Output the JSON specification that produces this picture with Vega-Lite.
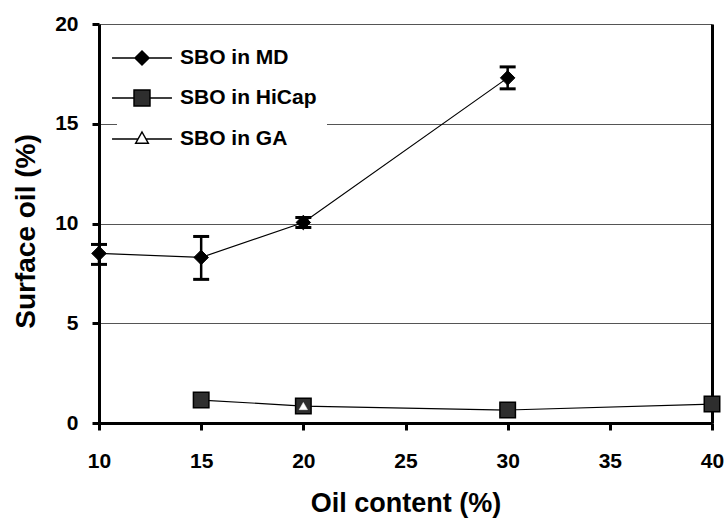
{
  "$schema": "https://vega.github.io/schema/vega-lite/v6.json",
  "width": 613,
  "height": 399,
  "autosize": {"type": "none"},
  "padding": {"left": 99, "top": 24, "right": 16, "bottom": 95},
  "background": "white",
  "config": {
    "font": "Liberation Sans",
    "view": {"stroke": null},
    "axis": {
      "domainColor": "black",
      "domainWidth": 3,
      "ticks": true,
      "tickColor": "black",
      "tickWidth": 3,
      "labelFont": "Liberation Sans",
      "labelFontWeight": "bold",
      "labelFontSize": 21,
      "labelColor": "black",
      "labelFlush": false,
      "titleFont": "Liberation Sans",
      "titleFontWeight": "bold",
      "titleColor": "black",
      "grid": false
    }
  },
  "data": {
    "values": [
      {"series": "SBO in MD", "oil": 10, "surface": 8.5, "low": 7.95, "high": 8.95},
      {"series": "SBO in MD", "oil": 15, "surface": 8.3, "low": 7.2, "high": 9.35},
      {"series": "SBO in MD", "oil": 20, "surface": 10.05, "low": 9.8, "high": 10.3},
      {"series": "SBO in MD", "oil": 30, "surface": 17.3, "low": 16.75, "high": 17.85},
      {"series": "SBO in HiCap", "oil": 15, "surface": 1.15},
      {"series": "SBO in HiCap", "oil": 20, "surface": 0.85},
      {"series": "SBO in HiCap", "oil": 30, "surface": 0.65},
      {"series": "SBO in HiCap", "oil": 40, "surface": 0.95},
      {"series": "SBO in GA", "oil": 20, "surface": 0.85}
    ]
  },
  "layer": [
    {
      "transform": [{"filter": "datum.series != 'SBO in GA'"}],
      "mark": {"type": "line", "color": "black", "strokeWidth": 1.2},
      "encoding": {
        "x": {
          "field": "oil", "type": "quantitative",
          "scale": {"domain": [10, 40], "nice": false, "zero": false},
          "axis": {"values": [10, 15, 20, 25, 30, 35, 40], "title": "Oil content (%)", "titleFontSize": 27, "tickSize": 7, "labelPadding": 20, "titlePadding": 19,
            "encode": {"ticks": {"update": {"y": {"value": 0}, "y2": {"value": -7}}}}}
        },
        "y": {
          "field": "surface", "type": "quantitative",
          "scale": {"domain": [0, 20], "nice": false},
          "axis": {"values": [0, 5, 10, 15, 20], "grid": true, "gridColor": "#555555", "gridWidth": 1, "title": "Surface oil (%)", "titleFontSize": 28, "titleY": 207, "tickSize": 7, "labelPadding": 14, "titlePadding": 14,
            "encode": {"ticks": {"update": {"x": {"value": 0}, "x2": {"value": 7}}}}}
        },
        "detail": {"field": "series"}
      }
    },
    {
      "transform": [{"filter": "isValid(datum.low)"}],
      "mark": {"type": "rule", "color": "black", "strokeWidth": 2.5},
      "encoding": {
        "x": {"field": "oil", "type": "quantitative"},
        "y": {"field": "low", "type": "quantitative", "axis": {"orient": "right", "labels": false, "ticks": false, "grid": false, "title": null, "domainWidth": 3}},
        "y2": {"field": "high"}
      }
    },
    {
      "transform": [{"filter": "isValid(datum.low)"}],
      "mark": {"type": "tick", "orient": "horizontal", "color": "black", "size": 16, "thickness": 3, "opacity": 1},
      "encoding": {
        "x": {"field": "oil", "type": "quantitative"},
        "y": {"field": "low", "type": "quantitative", "axis": null}
      }
    },
    {
      "transform": [{"filter": "isValid(datum.high)"}],
      "mark": {"type": "tick", "orient": "horizontal", "color": "black", "size": 16, "thickness": 3, "opacity": 1},
      "encoding": {
        "x": {"field": "oil", "type": "quantitative"},
        "y": {"field": "high", "type": "quantitative", "axis": null}
      }
    },
    {
      "transform": [{"filter": "datum.series == 'SBO in MD'"}],
      "mark": {"type": "point", "shape": "diamond", "filled": true, "fill": "black", "stroke": "black", "strokeWidth": 1, "size": 210, "opacity": 1},
      "encoding": {
        "x": {"field": "oil", "type": "quantitative"},
        "y": {"field": "surface", "type": "quantitative", "axis": null}
      }
    },
    {
      "transform": [{"filter": "datum.series == 'SBO in HiCap'"}],
      "mark": {"type": "point", "shape": "square", "filled": true, "fill": "#2e2e2e", "stroke": "black", "strokeWidth": 1.5, "size": 240, "opacity": 1},
      "encoding": {
        "x": {"field": "oil", "type": "quantitative"},
        "y": {"field": "surface", "type": "quantitative", "axis": null}
      }
    },
    {
      "transform": [{"filter": "datum.series == 'SBO in GA'"}],
      "mark": {"type": "point", "shape": "triangle-up", "filled": true, "fill": "white", "stroke": "white", "strokeWidth": 0.5, "size": 70, "opacity": 1},
      "encoding": {
        "x": {"field": "oil", "type": "quantitative"},
        "y": {"field": "surface", "type": "quantitative", "axis": null}
      }
    },
    {
      "transform": [{"filter": "false"}],
      "mark": {"type": "point", "filled": true, "stroke": "black", "strokeWidth": 1.2, "opacity": 1},
      "encoding": {
        "x": {"field": "oil", "type": "quantitative"},
        "y": {"field": "surface", "type": "quantitative", "axis": null},
        "shape": {
          "field": "series", "type": "nominal",
          "scale": {
            "domain": ["SBO in MD", "SBO in HiCap", "SBO in GA"],
            "range": [
              "M-2.14,0H-0.5M0.5,0H2.14M0,-0.5L0.5,0L0,0.5L-0.5,0Z",
              "M-2.14,0H-0.57M0.57,0H2.14M-0.57,-0.57H0.57V0.57H-0.57Z",
              "M-2.14,0H-0.28M0.28,0H2.14M0,-0.5L0.45,0.3H-0.45Z"
            ]
          },
          "legend": {"title": null, "orient": "none", "legendX": 18, "legendY": 9, "padding": 10, "symbolSize": 784, "labelFont": "Liberation Sans", "labelFontWeight": "bold", "labelFontSize": 21, "labelColor": "black", "labelOffset": 23, "labelLimit": 400, "rowPadding": 15, "fillColor": "white",
            "encode": {"symbols": {"update": {"stroke": {"value": "black"}, "strokeWidth": {"value": 1.2}, "opacity": {"value": 1}}}}}
        },
        "fill": {
          "field": "series", "type": "nominal",
          "scale": {"domain": ["SBO in MD", "SBO in HiCap", "SBO in GA"], "range": ["black", "#2e2e2e", "white"]},
          "legend": {"title": null, "orient": "none", "legendX": 18, "legendY": 9, "padding": 10, "symbolSize": 784, "labelFont": "Liberation Sans", "labelFontWeight": "bold", "labelFontSize": 21, "labelColor": "black", "labelOffset": 23, "labelLimit": 400, "rowPadding": 15, "fillColor": "white",
            "encode": {"symbols": {"update": {"stroke": {"value": "black"}, "strokeWidth": {"value": 1.2}, "opacity": {"value": 1}}}}}
        }
      }
    }
  ],
  "resolve": {"axis": {"y": "independent"}}
}
